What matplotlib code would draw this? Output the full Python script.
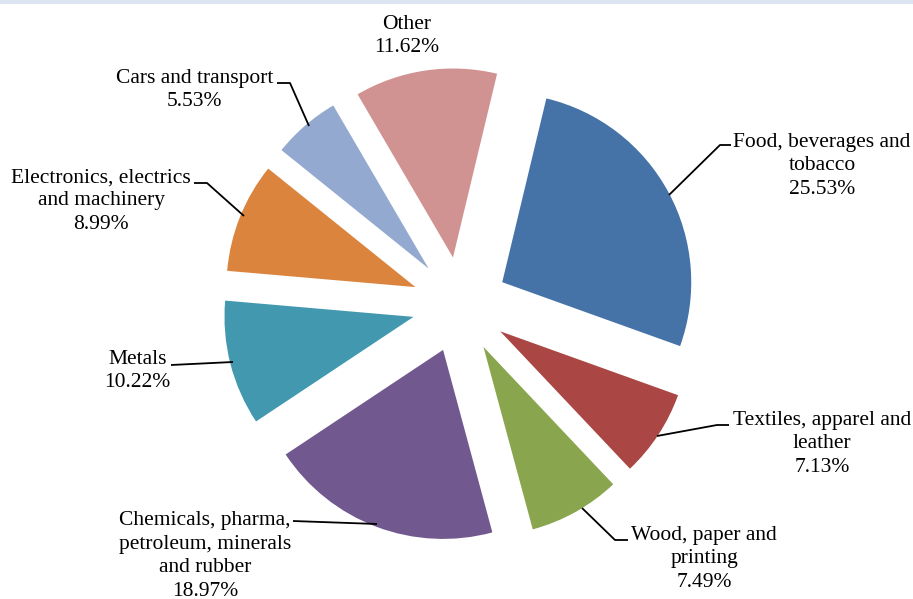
import matplotlib
matplotlib.use("Agg")
import matplotlib.pyplot as plt
from matplotlib.patches import Rectangle

# Sector shares (percent)
sectors = [
    "Food, beverages and\ntobacco",
    "Textiles, apparel and\nleather",
    "Wood, paper and\nprinting",
    "Chemicals, pharma,\npetroleum, minerals\nand rubber",
    "Metals",
    "Electronics, electrics\nand machinery",
    "Cars and transport",
    "Other",
]
shares = [25.53, 7.13, 7.49, 18.97, 10.22, 8.99, 5.53, 11.62]
colors = ["#4572A7", "#AA4643", "#89A54E", "#71588F",
          "#4198AF", "#DB843D", "#93A9CF", "#D19392"]

W, H = 913, 599
CX, CY, R = 460.0, 305.0, 189.0   # pie centre and radius in pixels


def px(x, y):
    """Pixel position (origin top-left) -> data coordinates."""
    return (x - CX) / R, (CY - y) / R


fig = plt.figure(figsize=(W / 100, H / 100), dpi=100)
ax = fig.add_axes([0, 0, 1, 1])
ax.set_axis_off()

ax.pie(shares, colors=colors, startangle=76.5, counterclock=False,
       explode=[0.254] * len(shares), radius=1.0,
       wedgeprops=dict(linewidth=0))

ax.set_xlim(-CX / R, (W - CX) / R)
ax.set_ylim(-(H - CY) / R, CY / R)
ax.set_aspect("auto")

# thin band along the top edge
fig.patches.append(Rectangle((0, 1 - 4 / H), 1, 4 / H, transform=fig.transFigure,
                             facecolor="#DCE6F2", edgecolor="none"))

# label centres (pixels) and leader-line paths (pixels)
label_pos = [(822, 166), (822, 444), (704, 559), (205, 556),
             (137.5, 371), (101, 201), (194.5, 90), (406.5, 36)]
leaders = [
    [(731, 145), (720, 145), (669, 195)],
    [(729, 425), (717, 425), (657, 436)],
    [(628, 540), (615, 540), (582, 508)],
    [(293, 521), (377, 524)],
    [(171, 365), (233, 362)],
    [(194, 183), (207, 183), (244, 216)],
    [(277, 83), (290, 83), (309, 126)],
    None,
]

font = dict(family="Liberation Serif", size=15.5, color="#000000")
for name, val, (lx, ly), path in zip(sectors, shares, label_pos, leaders):
    tx, ty = px(lx, ly)
    ax.text(tx, ty, f"{name}\n{val:.2f}%", ha="center", va="center",
            multialignment="center", linespacing=1.31, **font)
    if path:
        xs, ys = zip(*[px(x, y) for x, y in path])
        ax.plot(xs, ys, color="black", lw=1.3, solid_capstyle="butt")

fig.savefig("out.png", dpi=100)
